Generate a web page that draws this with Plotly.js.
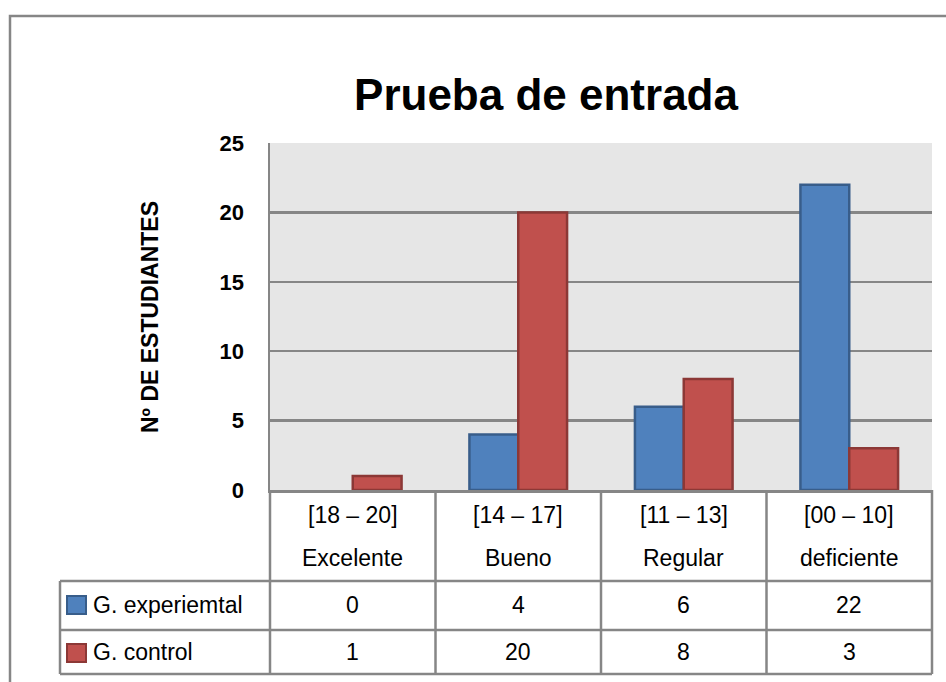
<!DOCTYPE html>
<html><head><meta charset="utf-8">
<script src="https://cdn.plot.ly/plotly-3.0.1.min.js"></script>
<style>html,body{margin:0;padding:0;background:#fff}</style>
</head><body><div id="chart" style="width:946px;height:682px"></div>
<script>
// ---- data ----
const rangeLabels = ['[18 – 20]', '[14 – 17]', '[11 – 13]', '[00 – 10]'];
const categories = ['Excelente', 'Bueno', 'Regular', 'deficiente'];
const seriesNames = ['G. experiemtal', 'G. control'];
const experimental = [0, 4, 6, 22];
const control = [1, 20, 8, 3];
const yTicks = [0, 5, 10, 15, 20, 25];
const chartTitle = 'Prueba de entrada';
const yTitle = 'Nº DE ESTUDIANTES';

// ---- layout geometry helpers (pixel -> paper) ----
const M = {l: 270, r: 14, t: 143, b: 192};
const FW = 946, FH = 682;
const W = FW - M.l - M.r, H = FH - M.t - M.b;
const px = x => (x - M.l) / W;
const py = y => (FH - M.b - y) / H;

const FONT = 'Liberation Sans, Arial, sans-serif';
const GRID = '#868686';
const colors = ['#4F81BD', '#C0504D'];
const lineColors = ['#385D8A', '#8C3836'];
const seriesData = [experimental, control];

const traces = seriesData.map((vals, i) => ({
  type: 'bar', x: categories, y: vals, name: seriesNames[i],
  marker: {color: colors[i], line: {color: lineColors[i], width: vals.map(v => v === 0 ? 0 : 2.5)}},
  hoverinfo: 'none', showlegend: false
}));

const n = categories.length;
const shapes = [];
const annotations = [];
const lw = 2.5;
const ln = (x0, y0, x1, y1) => shapes.push({type: 'line', xref: 'paper', yref: 'paper',
  x0, y0, x1, y1, line: {color: GRID, width: lw}});

// table rows (pixel positions)
const yHeadBottom = 581, yRow1Bottom = 630, yRow2Bottom = 674, legendLeft = 60;
// column verticals
for (let i = 0; i <= n; i++) ln(i / n, 0, i / n, py(yRow2Bottom));
// horizontal lines
ln(px(legendLeft), py(yHeadBottom), 1, py(yHeadBottom));
ln(px(legendLeft), py(yRow1Bottom), 1, py(yRow1Bottom));
ln(px(legendLeft), py(yRow2Bottom), 1, py(yRow2Bottom));
ln(px(legendLeft), py(yHeadBottom), px(legendLeft), py(yRow2Bottom));

// outer chart border
shapes.push({type: 'rect', xref: 'paper', yref: 'paper',
  x0: px(10), x1: px(1000), y0: py(16), y1: py(760),
  line: {color: GRID, width: 2.5}, fillcolor: 'rgba(0,0,0,0)', layer: 'below'});

const tfont = {family: FONT, size: 23, color: '#000'};
const rowY = [605, 652];
const sqTop = [596, 644];
categories.forEach((c, i) => {
  annotations.push({xref: 'x', yref: 'paper', x: c, y: py(515), text: rangeLabels[i],
    showarrow: false, font: tfont, xanchor: 'center', yanchor: 'middle'});
  annotations.push({xref: 'x', yref: 'paper', x: c, y: py(558), text: c,
    showarrow: false, font: tfont, xanchor: 'center', yanchor: 'middle'});
  seriesData.forEach((vals, s) => {
    annotations.push({xref: 'x', yref: 'paper', x: c, y: py(rowY[s]), text: String(vals[i]),
      showarrow: false, font: tfont, xanchor: 'center', yanchor: 'middle'});
  });
});
seriesNames.forEach((nm, s) => {
  shapes.push({type: 'rect', xref: 'paper', yref: 'paper',
    x0: px(67), x1: px(86), y0: py(sqTop[s]), y1: py(sqTop[s] + 18),
    fillcolor: colors[s], line: {color: lineColors[s], width: 2}});
  annotations.push({xref: 'paper', yref: 'paper', x: px(91), y: py(rowY[s]), text: nm,
    showarrow: false, font: tfont, xanchor: 'left', yanchor: 'middle'});
});

// y-axis title
annotations.push({xref: 'paper', yref: 'paper', x: px(150), y: py(317), text: yTitle,
  textangle: -90, showarrow: false, xanchor: 'center', yanchor: 'middle',
  font: {family: FONT, size: 23, weight: 'bold', color: '#000'}});

const layout = {
  width: FW, height: FH,
  margin: M,
  paper_bgcolor: '#fff', plot_bgcolor: '#E6E6E6',
  title: {text: chartTitle, xref: 'container', yref: 'container',
    x: 546 / FW, y: 1 - 95 / FH, xanchor: 'center', yanchor: 'middle',
    font: {family: FONT, size: 44, weight: 'bold', color: '#000'}},
  barmode: 'group', bargap: 0.41, bargroupgap: 0,
  xaxis: {showticklabels: false, ticks: '', showgrid: false, zeroline: false,
    showline: true, linecolor: GRID, linewidth: 2.5, fixedrange: true},
  yaxis: {range: [0, 25], tickvals: yTicks, ticktext: yTicks.map(String),
    showgrid: true, gridcolor: GRID, gridwidth: 2.5, zeroline: false,
    showline: true, linecolor: GRID, linewidth: 2.5,
    ticks: 'outside', ticklen: 19, tickcolor: 'rgba(0,0,0,0)',
    tickfont: {family: FONT, size: 22, weight: 'bold', color: '#000'}, fixedrange: true},
  shapes, annotations
};

Plotly.newPlot('chart', traces, layout, {staticPlot: true, displayModeBar: false});
</script></body></html>
